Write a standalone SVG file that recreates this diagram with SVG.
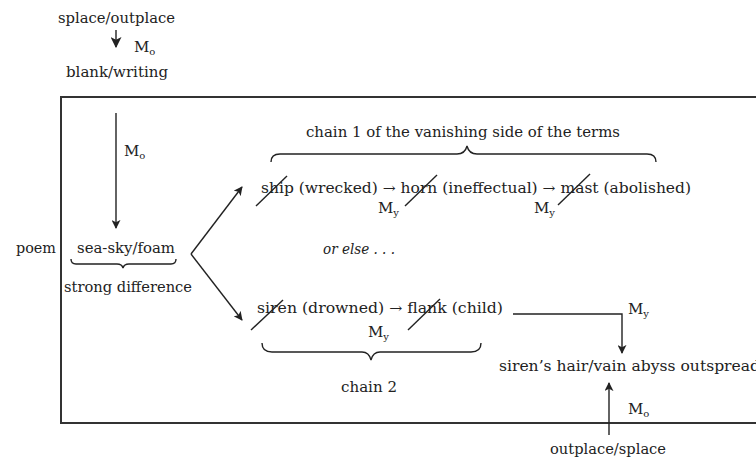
<svg xmlns="http://www.w3.org/2000/svg" width="756" height="458" viewBox="0 0 756 458">
<defs>
<style>
text{font-family:"DejaVu Serif","Liberation Serif",serif;font-size:14px;fill:#222}
.m{font-size:15px}
.sub{font-size:10px}
.it{font-style:italic}
.ln{stroke:#222;stroke-width:1.4;fill:none}
.box{stroke:#333;stroke-width:2;fill:none}
</style>
<marker id="ah" viewBox="0 0 10 10" refX="9" refY="5" markerWidth="9" markerHeight="9" markerUnits="userSpaceOnUse" orient="auto">
<path d="M0,0 L10,5 L0,10 L2.5,5 Z" fill="#222"/>
</marker>
<marker id="ah2" viewBox="0 0 10 10" refX="9" refY="5" markerWidth="11" markerHeight="11" markerUnits="userSpaceOnUse" orient="auto">
<path d="M0,0 L10,5 L0,10 L2.5,5 Z" fill="#222"/>
</marker>
</defs>
<rect class="box" x="61" y="97" width="710" height="326"/>

<g id="top">
<text x="58" y="23" textLength="117" lengthAdjust="spacingAndGlyphs">splace/outplace</text>
<text class="m" x="134" y="52">M<tspan class="sub" dy="3">o</tspan></text>
<text x="66" y="77" textLength="102" lengthAdjust="spacingAndGlyphs">blank/writing</text>
</g>
<g id="poem">
<text x="16" y="253" textLength="40" lengthAdjust="spacingAndGlyphs">poem</text>
<text x="77" y="253" textLength="98" lengthAdjust="spacingAndGlyphs">sea-sky/foam</text>
<path class="ln" d="M71,259 Q71,264 76,264 L117,264 Q122,264 123,268 Q124,264 129,264 L171,264 Q176,264 176,259"/>
<text x="64" y="292" textLength="128" lengthAdjust="spacingAndGlyphs">strong difference</text>
<text class="m" x="124" y="156">M<tspan class="sub" dy="3">o</tspan></text>
</g>
<g id="chain1">
<text x="306" y="137" textLength="314" lengthAdjust="spacingAndGlyphs">chain 1 of the vanishing side of the terms</text>
<path class="ln" d="M271,162 Q271,154 280,154 L457,154 Q465,154 467,146 Q469,154 477,154 L647,154 Q656,154 656,162"/>
<text x="261" y="193" textLength="430" lengthAdjust="spacingAndGlyphs">ship (wrecked) → horn (ineffectual) →  mast (abolished)</text>
<line class="ln" x1="256" y1="206" x2="287" y2="176"/>
<line class="ln" x1="405" y1="206" x2="437" y2="175"/>
<line class="ln" x1="558" y1="205" x2="590" y2="174"/>
<text class="m" x="378" y="213">M<tspan class="sub" dy="3">y</tspan></text>
<text class="m" x="534" y="213">M<tspan class="sub" dy="3">y</tspan></text>
</g>
<g id="orelse">
<text class="it" x="323" y="254" textLength="72" lengthAdjust="spacingAndGlyphs">or else . . .</text>
</g>
<g id="chain2">
<text x="257" y="313" textLength="246" lengthAdjust="spacingAndGlyphs">siren (drowned) →  flank (child)</text>
<line class="ln" x1="251" y1="330" x2="283" y2="300"/>
<line class="ln" x1="408" y1="330" x2="440" y2="299"/>
<text class="m" x="368" y="337">M<tspan class="sub" dy="3">y</tspan></text>
<path class="ln" d="M262,343 Q262,352 272,352 L362,352 Q369,352 371,360 Q373,352 380,352 L471,352 Q481,352 481,343"/>
<text x="341" y="392" textLength="56" lengthAdjust="spacingAndGlyphs">chain 2</text>
</g>
<g id="result">
<text x="499" y="371" textLength="261" lengthAdjust="spacingAndGlyphs">siren’s hair/vain abyss outspread</text>
<text class="m" x="628" y="314">M<tspan class="sub" dy="3">y</tspan></text>
<text class="m" x="628" y="414">M<tspan class="sub" dy="3">o</tspan></text>
<text x="550" y="454" textLength="116" lengthAdjust="spacingAndGlyphs">outplace/splace</text>
</g>
<g id="connectors">
<line class="ln" x1="116" y1="30" x2="116" y2="47" marker-end="url(#ah2)" stroke-width="2"/>
<line class="ln" x1="116" y1="113" x2="116" y2="228" marker-end="url(#ah)"/>
<line class="ln" x1="191" y1="254" x2="242" y2="320" marker-end="url(#ah)"/>
<line class="ln" x1="191" y1="254" x2="242" y2="187" marker-end="url(#ah)"/>
<polyline class="ln" points="513,314 622,314 622,353" marker-end="url(#ah)"/>
<line class="ln" x1="609" y1="435" x2="609" y2="383" marker-end="url(#ah)"/>
</g>
</svg>
